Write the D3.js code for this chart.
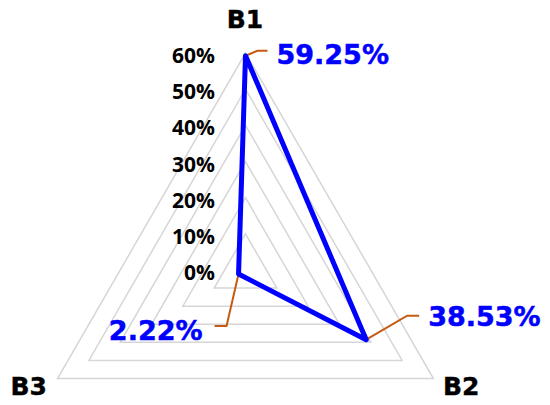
<!DOCTYPE html>
<html>
<head>
<meta charset="utf-8">
<script src="https://cdn.jsdelivr.net/npm/d3@7"></script>
<style>
  body { margin: 0; background: #fff; }
  svg { display: block; }
  .tick-label { font-family: "Open Sans", sans-serif; font-weight: 700; font-size: 21px; fill: #000; }
  .axis-name { font-family: "DejaVu Sans", sans-serif; font-weight: bold; font-size: 25px; fill: #000; stroke: #000; stroke-width: 0.4px; }
  .value-label { font-family: "DejaVu Sans", sans-serif; font-weight: bold; font-size: 27px; fill: #0000ff; stroke: #0000ff; stroke-width: 0.5px; }
</style>
</head>
<body>
<div id="chart"></div>
<script>
// data
var categories = ["B1", "B2", "B3"];
var values = [59.25, 38.53, 2.22];
var tickValues = [0, 10, 20, 30, 40, 50, 60];

var width = 550, height = 405;
var cx = 245.5, cy = 270, radius = 217;

var svg = d3.select("#chart").append("svg")
    .attr("width", width)
    .attr("height", height);

var r = d3.scaleLinear().domain([0, 60]).range([0, radius]);

// angle for each category, B1 on top, going clockwise
var angle = d3.scalePoint()
    .domain(categories)
    .range([0, 2 * Math.PI * (categories.length - 1) / categories.length]);

function pt(cat, v) {
    var a = angle(cat);
    return [cx + r(v) * Math.sin(a), cy - r(v) * Math.cos(a)];
}

// grid triangles
var line = d3.line();
tickValues.filter(function (t) { return t > 0; }).forEach(function (t) {
    svg.append("path")
        .attr("d", line(categories.map(function (c) { return pt(c, t); })) + "Z")
        .attr("fill", "none")
        .attr("stroke", "#d6d6d6")
        .attr("stroke-width", 1.5);
});

// tick labels along the B1 axis
svg.selectAll(".tick-label")
    .data(tickValues)
    .enter().append("text")
    .attr("class", "tick-label")
    .attr("x", 215)
    .attr("y", function (d) { return cy - r(d) + 2; })
    .attr("dominant-baseline", "central")
    .attr("text-anchor", "end")
    .text(function (d) { return d + "%"; });

// category names
var namePos = {
    "B1": { x: 245, y: 28, anchor: "middle" },
    "B2": { x: 443, y: 395, anchor: "start" },
    "B3": { x: 47, y: 395, anchor: "end" }
};
svg.selectAll(".axis-name")
    .data(categories)
    .enter().append("text")
    .attr("class", "axis-name")
    .attr("x", function (d) { return namePos[d].x; })
    .attr("y", function (d) { return namePos[d].y; })
    .attr("text-anchor", function (d) { return namePos[d].anchor; })
    .text(function (d) { return d; });

// leader lines and value labels
var pts = categories.map(function (c, i) { return pt(c, values[i]); });
var labelSpec = [
    { lx: [12, 22], ly: -5, tx: 31, ty: -1, anchor: "start" },
    { lx: [41, 53], ly: -24, tx: 62, ty: -23, anchor: "start" },
    { lx: [-12, -24], ly: 52, tx: -36, ty: 56, anchor: "end" }
];

pts.forEach(function (p, i) {
    var s = labelSpec[i];
    svg.append("path")
        .attr("d", line([p, [p[0] + s.lx[0], p[1] + s.ly], [p[0] + s.lx[1], p[1] + s.ly]]))
        .attr("fill", "none")
        .attr("stroke", "#c55a11")
        .attr("stroke-width", 2);
    svg.append("text")
        .attr("class", "value-label")
        .attr("x", p[0] + s.tx)
        .attr("y", p[1] + s.ty)
        .attr("dominant-baseline", "central")
        .attr("text-anchor", s.anchor)
        .text(values[i].toFixed(2) + "%");
});

// data polygon
svg.append("path")
    .attr("d", line(pts) + "Z")
    .attr("fill", "none")
    .attr("stroke", "#0000ff")
    .attr("stroke-width", 5)
    .attr("stroke-linejoin", "round");
</script>
</body>
</html>
